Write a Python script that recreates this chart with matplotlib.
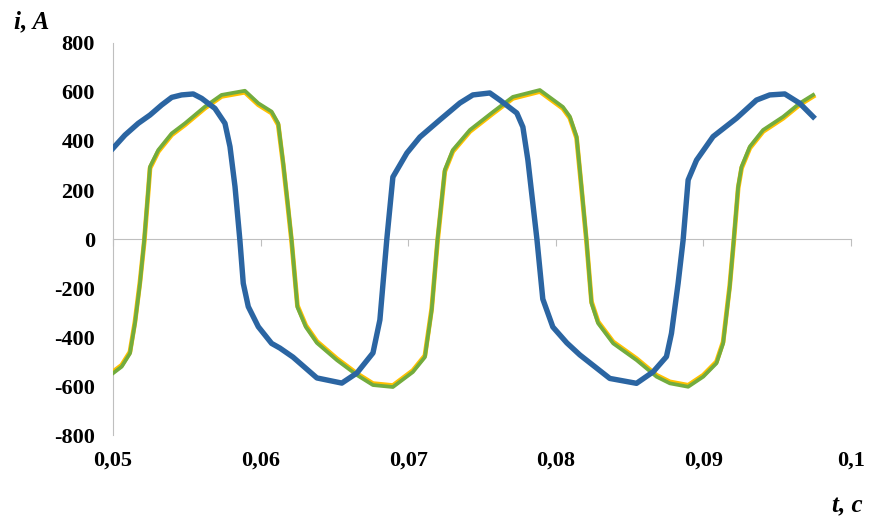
import matplotlib.pyplot as plt

# time, s
t_blue = [0.05000, 0.05081, 0.05171, 0.05251, 0.05330, 0.05398, 0.05465, 0.05544,
          0.05601, 0.05691, 0.05759, 0.05793, 0.05827, 0.05860, 0.05883, 0.05917,
          0.05985, 0.06075, 0.06131, 0.06220, 0.06382, 0.06551, 0.06653, 0.06762,
          0.06809, 0.06856, 0.06897, 0.06992, 0.07080, 0.07215, 0.07351, 0.07439,
          0.07554, 0.07622, 0.07737, 0.07778, 0.07812, 0.07873, 0.07913, 0.07981,
          0.08076, 0.08164, 0.08367, 0.08548, 0.08661, 0.08751, 0.08785, 0.08830,
          0.08864, 0.08898, 0.08955, 0.09067, 0.09226, 0.09361, 0.09451, 0.09553,
          0.09654, 0.09745]
i_blue = [370, 424, 472, 506, 547, 578, 588, 592,
          574, 533, 472, 377, 214, -4, -181, -276,
          -358, -426, -445, -482, -567, -588, -547, -465,
          -330, 0, 253, 351, 416, 486, 555, 588,
          596, 567, 514, 457, 322, 0, -245, -359,
          -424, -473, -569, -589, -542, -480, -385, -181,
          -4, 241, 322, 418, 493, 567, 588, 592,
          554, 499]

t_green = [0.05000, 0.05059, 0.05115, 0.05149, 0.05183, 0.05212, 0.05239, 0.05251,
           0.05307, 0.05398, 0.05488, 0.05623, 0.05736, 0.05894, 0.05985, 0.06075,
           0.06120, 0.06154, 0.06184, 0.06210, 0.06250, 0.06307, 0.06382, 0.06517,
           0.06653, 0.06762, 0.06897, 0.07032, 0.07114, 0.07160, 0.07200, 0.07249,
           0.07303, 0.07419, 0.07574, 0.07710, 0.07893, 0.08049, 0.08096, 0.08142,
           0.08175, 0.08209, 0.08243, 0.08288, 0.08390, 0.08548, 0.08684, 0.08774,
           0.08898, 0.09000, 0.09090, 0.09135, 0.09180, 0.09207, 0.09237, 0.09260,
           0.09316, 0.09406, 0.09542, 0.09654, 0.09745]
i_green = [-548, -521, -467, -344, -181, -4, 200, 295,
           363, 431, 472, 540, 588, 605, 554, 520,
           472, 309, 146, 0, -278, -359, -424, -494,
           -555, -596, -604, -543, -482, -290, 0, 282,
           363, 445, 518, 580, 608, 539, 500, 418,
           214, -4, -262, -344, -426, -494, -562, -589,
           -603, -562, -507, -426, -195, -4, 214, 295,
           377, 445, 499, 554, 588]
i_yellow = [-542, -515, -461, -338, -175, -10, 194, 289,
            357, 425, 466, 534, 582, 599, 548, 514,
            466, 303, 140, -6, -272, -353, -418, -488,
            -549, -590, -598, -537, -476, -284, -6, 276,
            357, 439, 512, 574, 602, 533, 494, 412,
            208, -10, -256, -338, -420, -488, -556, -583,
            -597, -556, -501, -420, -189, -10, 208, 289,
            371, 439, 493, 548, 582]

xticks = [0.05, 0.06, 0.07, 0.08, 0.09, 0.1]
xlabels = ['0,05', '0,06', '0,07', '0,08', '0,09', '0,1']
yticks = [-800, -600, -400, -200, 0, 200, 400, 600, 800]

plt.rcParams['font.family'] = ['Liberation Serif', 'DejaVu Serif']
fig = plt.figure(figsize=(8.69, 5.21), dpi=100)
ax = fig.add_axes([0.130, 0.165, 0.849, 0.7525])

ax.plot(t_green, i_yellow, color='#FFC000', lw=3.4, solid_joinstyle='round', zorder=3)
ax.plot(t_green, i_green, color='#72AC3E', lw=2.7, solid_joinstyle='round', zorder=4)
ax.plot(t_blue, i_blue, color='#2B65A2', lw=3.9, solid_joinstyle='round', zorder=5)

ax.set_xlim(0.05, 0.1)
ax.set_ylim(-800, 800)

for s in ['top', 'right']:
    ax.spines[s].set_visible(False)
ax.spines['left'].set_color('#BFBFBF')
ax.spines['bottom'].set_position(('data', 0))
ax.spines['bottom'].set_color('#BFBFBF')
ax.spines['left'].set_zorder(1)
ax.spines['bottom'].set_zorder(1)

ax.set_xticks(xticks)
ax.tick_params(axis='x', direction='out', length=5, color='#BFBFBF', labelbottom=False)
ax.set_yticks(yticks)
ax.set_yticklabels([str(v) for v in yticks])
ax.tick_params(axis='y', length=0, pad=13, labelsize=16)
for lb in ax.get_yticklabels():
    lb.set_fontweight('bold')

sec = ax.secondary_xaxis(0)
sec.set_xticks(xticks)
sec.set_xticklabels(xlabels)
sec.tick_params(length=0, pad=11, labelsize=16)
sec.spines['bottom'].set_visible(False)
for lb in sec.get_xticklabels():
    lb.set_fontweight('bold')

fig.text(14, 521 - 22, 'i, A', fontsize=18, fontweight='bold', fontstyle='italic',
         ha='left', va='center', transform=None)
fig.text(863, 521 - 506, 't, c', fontsize=18, fontweight='bold', fontstyle='italic',
         ha='right', va='center', transform=None)

fig.savefig('out.png', dpi=100)
